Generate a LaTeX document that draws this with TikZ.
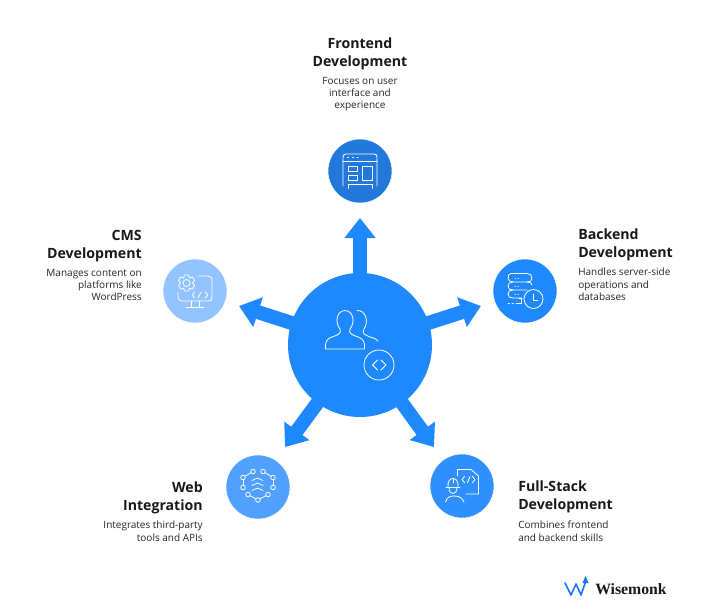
\documentclass[tikz,border=0pt]{standalone}
\usepackage{fontspec}
\setmainfont{Open Sans}
\newfontfamily\logofont{Liberation Serif}
\usetikzlibrary{arrows.meta}
\definecolor{mainblue}{HTML}{1E88FF}
\definecolor{topblue}{HTML}{2379DB}
\definecolor{rightblue}{HTML}{1E88FF}
\definecolor{leftblue}{HTML}{93C4FF}
\definecolor{blblue}{HTML}{4FA0FF}
\definecolor{brblue}{HTML}{2F8FFF}
\tikzset{
  px/.style={x=0.75pt,y=-0.75pt},
  main circle/.style={circle,minimum size=108pt,inner sep=0pt,fill=mainblue},
  topic circle/.style={circle,minimum size=48pt,inner sep=0pt,draw=white,line width=0.4pt},
  spoke/.style={line width=10.5pt,mainblue,-{Triangle[length=15pt,width=22.5pt]}},
  title/.style={font=\fontsize{10.6}{13.5}\selectfont\bfseries,inner sep=0pt,text=black!90},
  descr/.style={font=\fontsize{7.5}{9.1}\selectfont,inner sep=0pt,text=black!85},
  icon/.style={draw=white,line width=0.6pt,line cap=round,line join=round,fill=none},
}
\begin{document}
\begin{tikzpicture}[px]
\useasboundingbox (0,0) rectangle (714,608);
\fill[white] (0,0) rectangle (714,608);
% spokes
\coordinate (cc) at (360,345);
\coordinate (tipT) at (360,218);
\coordinate (tipR) at (481,306);
\coordinate (tipL) at (239,306);
\coordinate (tipBL) at (285,447);
\coordinate (tipBR) at (434,447);
\draw[spoke] (cc) -- (tipT);
\draw[spoke] (cc) -- (tipR);
\draw[spoke] (cc) -- (tipL);
\draw[spoke] (cc) -- (tipBL);
\draw[spoke] (cc) -- (tipBR);
\node[main circle] (main) at (cc) {};
\node[topic circle,fill=topblue] (front) at (360,171) {};
\node[topic circle,fill=rightblue] (back) at (525,291) {};
\node[topic circle,fill=leftblue] (cms) at (195,291) {};
\node[topic circle,fill=blblue] (web) at (258,487) {};
\node[topic circle,fill=brblue] (full) at (462,486) {};
% texts
\node[title,align=center,anchor=north] (t1) at (360,37) {Frontend\\Development};
\node[descr,align=center,anchor=north] (d1) at (360,77) {Focuses on user\\interface and\\experience};
\node[title,align=left,anchor=north west] (t2) at (578,228.5) {Backend\\Development};
\node[descr,align=left,anchor=north west] (d2) at (578,268) {Handles server-side\\operations and\\databases};
\node[title,align=right,anchor=north east] (t3) at (142,230) {CMS\\Development};
\node[descr,align=right,anchor=north east] (d3) at (142,269) {Manages content on\\platforms like\\WordPress};
\node[title,align=right,anchor=north east] (t4) at (203,481) {Web\\Integration};
\node[descr,align=right,anchor=north east] (d4) at (203,521) {Integrates third-party\\tools and APIs};
\node[title,align=left,anchor=north west] (t5) at (518,480) {Full-Stack\\Development};
\node[descr,align=left,anchor=north west] (d5) at (518,521) {Combines frontend\\and backend skills};
% main icon
\draw[icon] (347,349) -- (325.5,349) .. controls (325,341) and (327,339) .. (332,337) .. controls (337,335) and (342,334) .. (340,329) .. controls (335,323) and (336,311) .. (345,310.5) .. controls (354,311) and (355,323) .. (350,329) .. controls (348,334) and (353,335) .. (358,337) .. controls (363,339) and (365,341) .. (364.5,349) -- (347,349);
\draw[icon] (357,310.5) .. controls (366,310) and (369,322) .. (364,329) .. controls (361,334) and (366,335) .. (370,337) .. controls (374,338) and (377,339) .. (378,341);
\draw[icon] (379,365) circle (15);
\draw[icon] (377.5,360) -- (372.5,365) -- (377.5,370);
\draw[icon] (381,360) -- (386,365) -- (381,370);
% frontend icon
\begin{scope}[shift={(300,130)}]
\draw[icon] (43,56) -- (43,27) .. controls (43,25) and (44,24) .. (46,24) -- (74,24) .. controls (76,24) and (77,25) .. (77,27) -- (77,56);
\draw[icon] (43,31) -- (77,31);
\draw[icon] (47.5,27.5) -- (48.5,27.5) (52.5,27.5) -- (53.5,27.5) (57,27.5) -- (58,27.5);
\draw[icon] (48,36) rectangle (57,41);
\draw[icon] (48,45) rectangle (57,50);
\draw[icon] (62,36) rectangle (72,50);
\draw[icon] (48,58.5) -- (48,54) -- (72,54) -- (72,58.5);
\end{scope}
% backend icon
\begin{scope}[shift={(480,250)}]
\draw[icon] (31,23.5) -- (47,23.5) .. controls (50,23.5) and (52,25) .. (52,28) .. controls (52,31) and (50,32) .. (47,32) -- (33,32) .. controls (30,32) and (28,30) .. (28,28) .. controls (28,25) and (29,24) .. (31,23.5);
\draw[icon] (33,32) .. controls (30,32) and (28,33) .. (28,36) .. controls (28,39) and (30,40) .. (33,40) -- (47,40) (47,32) .. controls (50,32) and (52,33) .. (52,35);
\draw[icon] (33,40) .. controls (30,40) and (28,41) .. (28,44) .. controls (28,47) and (30,48) .. (33,48) -- (42,48);
\draw[icon] (35,28) -- (35.5,28) (38,28) -- (38.5,28) (35,36) -- (35.5,36) (38,36) -- (38.5,36) (35,44) -- (35.5,44) (38,44) -- (38.5,44);
\draw[icon] (39,48) -- (41,48) -- (41,53) -- (36,53);
\draw[icon] (28,53.5) -- (29.5,53.5) (32,53.5) -- (33.5,53.5);
\draw[icon] (53.5,49) circle (9.5);
\draw[icon] (53.5,44) -- (53.5,50) -- (58,50);
\end{scope}
% cms icon
\begin{scope}[shift={(150,250)}]
\draw[icon] (48,26) -- (58,26) .. controls (61,26) and (62,28) .. (62,30) -- (62,47) .. controls (62,50) and (61,51) .. (58,51) -- (32,51) .. controls (30,51) and (28,50) .. (28,47) -- (28,42);
\draw[icon] (41,51) -- (41,57) (49,51) -- (49,57) (36,57) -- (54,57);
\draw[icon] (34.5,25) -- (38.5,25) -- (39.5,28) -- (42.5,27) -- (44.5,30.5) -- (42.5,33) -- (44.5,35.5) -- (42.5,39) -- (39.5,38) -- (38.5,41) -- (34.5,41) -- (33.5,38) -- (30.5,39) -- (28.5,35.5) -- (30.5,33) -- (28.5,30.5) -- (30.5,27) -- (33.5,28) -- cycle;
\draw[icon] (36.5,33) circle (3.5);
\draw[icon] (44.5,42) -- (42.5,45) -- (44.5,48);
\draw[icon] (48,48) -- (51,42);
\draw[icon] (55,42) -- (58,45) -- (55,48);
\end{scope}
% web icon
\begin{scope}[shift={(215,445)}]
\foreach \p in {(28,32.5),(38,26.5),(48,26.5),(58,32.5),(28,42.5),(58,42.5),(33,49.5),(43,55),(53,49.5)}
  \draw[icon] \p circle (2.3);
\draw[icon] (28,34.8) -- (28,40.2) (58,34.8) -- (58,40.2);
\draw[icon] (30,31.3) -- (36,27.7) (56,31.3) -- (50,27.7);
\draw[icon] (35,50.6) -- (41,53.9) (51,50.6) -- (45,53.9);
\foreach \y in {33,38,43}
  \draw[icon] (37,\y+2.5) -- (42.5,\y) -- (48,\y+2.5);
\end{scope}
% fullstack icon
\begin{scope}[shift={(420,445)}]
\draw[icon] (37.5,31) -- (37.5,24.5) -- (51,24.5) -- (58.5,31) -- (58.5,49) -- (46,49);
\draw[icon] (44.5,31.5) -- (42,34.5) -- (44.5,37.5);
\draw[icon] (47.5,37.5) -- (50,31.5);
\draw[icon] (52.5,31.5) -- (55,34.5) -- (52.5,37.5);
\draw[icon] (26,42) -- (40,42);
\draw[icon] (28,42) .. controls (27.5,36) and (30,33.5) .. (33,33.5) .. controls (36,33.5) and (38.5,36) .. (38,42);
\draw[icon] (29,42) .. controls (29,47) and (31,48.5) .. (33,48.5) .. controls (35,48.5) and (37,47) .. (37,42);
\draw[icon] (33,33.5) -- (33,38);
\draw[icon] (25.5,57) .. controls (27,52) and (30,51) .. (34,51) .. controls (38,51) and (42,52) .. (44,57);
\end{scope}
% logo
\begin{scope}[shift={(550,565)}]
\draw[line width=1.2pt,mainblue!85!blue,line cap=round,line join=round] (15,18) -- (21,30) -- (26,19) -- (31,30) -- (35.5,17);
\fill[mainblue!85!blue] (35.5,11) -- (32.5,18) -- (38.5,18) -- cycle;
\end{scope}
\node[font=\logofont\bfseries\fontsize{11.8}{13}\selectfont,inner sep=0pt,text=black!90,anchor=west] (logo) at (595,589) {Wisemonk};
\end{tikzpicture}
\end{document}
